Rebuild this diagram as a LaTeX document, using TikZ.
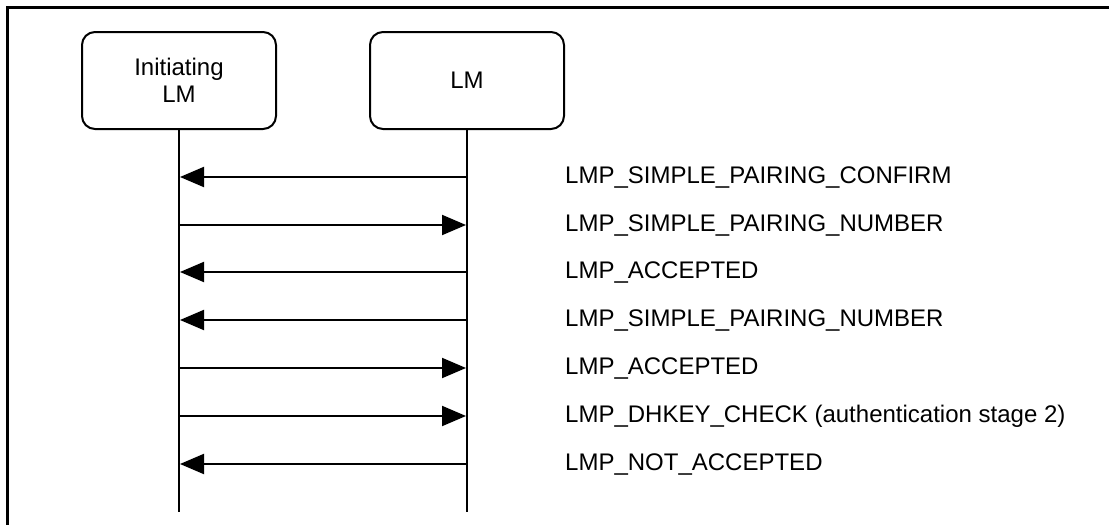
\documentclass[tikz,border=0pt]{standalone}
\usepackage{fontspec}
\setmainfont{Liberation Sans}
\usetikzlibrary{arrows.meta}
\begin{document}
\begin{tikzpicture}[x=1pt,y=-1pt,
  lmbox/.style={draw,line width=2pt,rounded corners=13pt,minimum width=194pt,minimum height=97pt,align=center,font=\fontsize{24}{27}\selectfont,inner sep=0pt},
  lifeline/.style={line width=2pt},
  msg/.style={line width=2pt,-{Triangle[length=24pt,width=20pt]}},
  lbl/.style={anchor=base west,inner sep=0pt,font=\fontsize{24}{27}\selectfont},
  frameline/.style={line width=2.4pt}]
\useasboundingbox (0,0) rectangle (1109,525);
\coordinate (fA) at (7.5,525);
\coordinate (fB) at (7.5,7.5);
\coordinate (fC) at (1109,7.5);
\draw[frameline] (fA) -- (fB) -- (fC);
\node[lmbox] (ilm) at (179,80.5) {Initiating\\LM};
\node[lmbox] (lm) at (467,80.5) {LM};
\coordinate (ilmEnd) at (179,512);
\coordinate (lmEnd) at (467,512);
\draw[lifeline] (ilm.south) -- (ilmEnd);
\draw[lifeline] (lm.south) -- (lmEnd);
% messages
\foreach \y/\dir/\txt [count=\i] in {
  177/l/LMP\_SIMPLE\_PAIRING\_CONFIRM,
  225/r/LMP\_SIMPLE\_PAIRING\_NUMBER,
  272/l/LMP\_ACCEPTED,
  320/l/LMP\_SIMPLE\_PAIRING\_NUMBER,
  368/r/LMP\_ACCEPTED,
  416/r/LMP\_DHKEY\_CHECK (authentication stage 2),
  464/l/LMP\_NOT\_ACCEPTED}{
  \coordinate (a\i) at (180,\y);
  \coordinate (b\i) at (466,\y);
  \if l\dir
    \draw[msg] (b\i) -- (a\i);
  \else
    \draw[msg] (a\i) -- (b\i);
  \fi
  \node[lbl] (t\i) at (565,\y+6) {\txt};
}
\end{tikzpicture}
\end{document}
